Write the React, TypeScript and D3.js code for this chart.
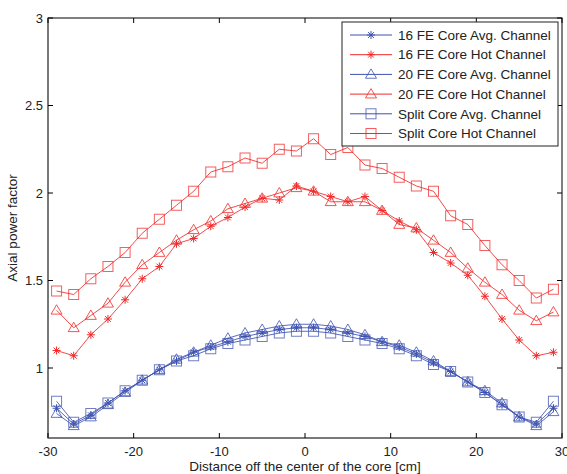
import React, { useEffect, useRef } from 'react';
import * as d3 from 'd3';

// distance off the core center [cm]
const positions = [
    -29, -27, -25, -23, -21, -19, -17, -15, -13, -11, -9, -7, -5, -3, -1,
    1, 3, 5, 7, 9, 11, 13, 15, 17, 19, 21, 23, 25, 27, 29,
];

const fe16Avg = [
    0.77, 0.68, 0.73, 0.8, 0.87, 0.93, 0.99, 1.04, 1.09, 1.12, 1.15, 1.18, 1.2, 1.22, 1.23,
    1.23, 1.22, 1.2, 1.18, 1.15, 1.12, 1.08, 1.03, 0.98, 0.92, 0.86, 0.79, 0.72, 0.68, 0.77,
];
const fe16Hot = [
    1.1, 1.07, 1.19, 1.28, 1.39, 1.51, 1.58, 1.71, 1.74, 1.81, 1.86, 1.92, 1.97, 1.96, 2.04,
    2.01, 1.98, 1.95, 1.98, 1.9, 1.84, 1.79, 1.66, 1.6, 1.53, 1.41, 1.28, 1.16, 1.07, 1.09,
];
const fe20Avg = [
    0.74, 0.67, 0.72, 0.79, 0.86, 0.93, 0.99, 1.05, 1.09, 1.13, 1.17, 1.2, 1.22, 1.24, 1.25,
    1.25, 1.24, 1.22, 1.19, 1.15, 1.13, 1.09, 1.04, 0.98, 0.92, 0.87, 0.8, 0.72, 0.67, 0.75,
];
const fe20Hot = [
    1.33, 1.23, 1.3, 1.37, 1.49, 1.59, 1.66, 1.73, 1.79, 1.84, 1.91, 1.94, 1.97, 2.0, 2.03,
    2.01, 1.95, 1.95, 1.95, 1.9, 1.82, 1.8, 1.73, 1.66, 1.57, 1.49, 1.42, 1.33, 1.27, 1.32,
];
const splitAvg = [
    0.81, 0.69, 0.74, 0.8, 0.87, 0.93, 0.99, 1.04, 1.07, 1.11, 1.14, 1.16, 1.18, 1.2, 1.21,
    1.21, 1.2, 1.18, 1.16, 1.14, 1.11, 1.07, 1.02, 0.98, 0.92, 0.86, 0.79, 0.72, 0.69, 0.81,
];
const splitHot = [
    1.44, 1.42, 1.51, 1.58, 1.66, 1.77, 1.85, 1.93, 2.01, 2.12, 2.15, 2.2, 2.17, 2.25, 2.24,
    2.31, 2.22, 2.26, 2.16, 2.14, 2.09, 2.04, 2.01, 1.87, 1.82, 1.7, 1.59, 1.5, 1.4, 1.45,
];

const seriesLabels = [
    '16 FE Core Avg. Channel',
    '16 FE Core Hot Channel',
    '20 FE Core Avg. Channel',
    '20 FE Core Hot Channel',
    'Split Core Avg. Channel',
    'Split Core Hot Channel',
];
const xTicks = [-30, -20, -10, 0, 10, 20, 30];
const yTicks = [1, 1.5, 2, 2.5, 3];

const BLUE = '#3d52b0';
const RED = '#f02a2a';

const series = [
    { label: seriesLabels[0], values: fe16Avg, color: BLUE, marker: 'star' },
    { label: seriesLabels[1], values: fe16Hot, color: RED, marker: 'star' },
    { label: seriesLabels[2], values: fe20Avg, color: BLUE, marker: 'triangle' },
    { label: seriesLabels[3], values: fe20Hot, color: RED, marker: 'triangle' },
    { label: seriesLabels[4], values: splitAvg, color: BLUE, marker: 'square' },
    { label: seriesLabels[5], values: splitHot, color: RED, marker: 'square' },
];

function drawMarker(g: any, kind: string, cx: number, cy: number, color: string) {
    if (kind === 'star') {
        const r = 4;
        const d = r * 0.72;
        g.append('path')
            .attr(
                'd',
                `M${cx - r},${cy}H${cx + r}M${cx},${cy - r}V${cy + r}` +
                    `M${cx - d},${cy - d}L${cx + d},${cy + d}M${cx - d},${cy + d}L${cx + d},${cy - d}`
            )
            .attr('stroke', color)
            .attr('stroke-width', 1)
            .attr('fill', 'none');
    } else if (kind === 'triangle') {
        const r = 5.5;
        g.append('path')
            .attr('d', `M${cx},${cy - r}L${cx + r},${cy + r * 0.7}L${cx - r},${cy + r * 0.7}Z`)
            .attr('stroke', color)
            .attr('stroke-width', 1)
            .attr('stroke-opacity', 0.8)
            .attr('fill', 'none');
    } else {
        const s = 5;
        g.append('rect')
            .attr('x', cx - s)
            .attr('y', cy - s)
            .attr('width', 2 * s)
            .attr('height', 2 * s)
            .attr('stroke', color)
            .attr('stroke-width', 1)
            .attr('stroke-opacity', 0.75)
            .attr('fill', 'none');
    }
}

export default function App() {
    const svgRef = useRef<SVGSVGElement>(null);

    useEffect(() => {
        const width = 567;
        const height = 474;
        const margin = { top: 18, right: 5, bottom: 36, left: 48 };
        const innerW = width - margin.left - margin.right;
        const innerH = height - margin.top - margin.bottom;

        const svg = d3.select(svgRef.current);
        svg.selectAll('*').remove();

        const root = svg.append('g').attr('transform', 'translate(' + margin.left + ',' + margin.top + ')');

        const x = d3.scaleLinear().domain([-30, 30]).range([0, innerW]);
        const y = d3.scaleLinear().domain([0.6, 3]).range([innerH, 0]);

        const font = 'Liberation Sans, Arial, sans-serif';
        const tickSize = 13;
        const labelSize = 13.5;

        // box
        root.append('rect')
            .attr('width', innerW)
            .attr('height', innerH)
            .attr('fill', 'white')
            .attr('stroke', 'black')
            .attr('stroke-width', 1);
        root.append('line').attr('x1', 0).attr('x2', 0).attr('y1', 0).attr('y2', innerH)
            .attr('stroke', '#777').attr('stroke-width', 1.6);
        root.append('line').attr('x1', 0).attr('x2', innerW).attr('y1', innerH).attr('y2', innerH)
            .attr('stroke', '#777').attr('stroke-width', 1.6);

        // inward ticks on all four sides
        const tickLen = 5;
        xTicks.forEach((t) => {
            root.append('line').attr('x1', x(t)).attr('x2', x(t)).attr('y1', innerH).attr('y2', innerH - tickLen)
                .attr('stroke', 'black');
            root.append('line').attr('x1', x(t)).attr('x2', x(t)).attr('y1', 0).attr('y2', tickLen)
                .attr('stroke', 'black');
        });
        yTicks.forEach((t) => {
            root.append('line').attr('x1', 0).attr('x2', tickLen).attr('y1', y(t)).attr('y2', y(t))
                .attr('stroke', 'black');
            root.append('line').attr('x1', innerW).attr('x2', innerW - tickLen).attr('y1', y(t)).attr('y2', y(t))
                .attr('stroke', 'black');
        });

        root.selectAll('.xlab')
            .data(xTicks)
            .enter()
            .append('text')
            .attr('class', 'xlab')
            .attr('x', (d) => x(d))
            .attr('y', innerH + 18)
            .attr('text-anchor', 'middle')
            .attr('font-family', font)
            .attr('font-size', tickSize)
            .attr('fill', '#222')
            .text((d) => d);

        root.selectAll('.ylab')
            .data(yTicks)
            .enter()
            .append('text')
            .attr('class', 'ylab')
            .attr('x', -5)
            .attr('y', (d) => y(d))
            .attr('dy', '0.35em')
            .attr('text-anchor', 'end')
            .attr('font-family', font)
            .attr('font-size', tickSize)
            .attr('fill', '#222')
            .text((d) => d);

        root.append('text')
            .attr('x', innerW / 2)
            .attr('y', innerH + 33)
            .attr('text-anchor', 'middle')
            .attr('font-family', font)
            .attr('font-size', labelSize)
            .attr('fill', '#222')
            .text('Distance off the center of the core [cm]');

        root.append('text')
            .attr('transform', 'translate(' + -31 + ',' + innerH / 2 + ') rotate(-90)')
            .attr('text-anchor', 'middle')
            .attr('font-family', font)
            .attr('font-size', labelSize)
            .attr('fill', '#222')
            .text('Axial power factor');

        // series
        const line = d3
            .line<number>()
            .x((_, i) => x(positions[i]))
            .y((d) => y(d));

        series.forEach((s) => {
            const g = root.append('g');
            g.append('path')
                .attr('d', line(s.values))
                .attr('fill', 'none')
                .attr('stroke', s.color)
                .attr('stroke-width', 1)
                .attr('stroke-opacity', 0.85);
            s.values.forEach((v, i) => drawMarker(g, s.marker, x(positions[i]), y(v), s.color));
        });

        // legend
        const lg = root.append('g').attr('transform', 'translate(' + (342 - margin.left) + ',' + (22 - margin.top) + ')');
        lg.append('rect')
            .attr('width', 216)
            .attr('height', 124)
            .attr('fill', 'white')
            .attr('stroke', '#222')
            .attr('stroke-width', 1);
        series.forEach((s, i) => {
            const cy = 13 + i * 19.7;
            lg.append('line')
                .attr('x1', 8)
                .attr('x2', 50)
                .attr('y1', cy)
                .attr('y2', cy)
                .attr('stroke', s.color)
                .attr('stroke-width', 1);
            drawMarker(lg, s.marker, 29, cy, s.color);
            lg.append('text')
                .attr('x', 56)
                .attr('y', cy)
                .attr('dy', '0.35em')
                .attr('font-family', font)
                .attr('font-size', labelSize)
                .attr('fill', '#222')
                .text(s.label);
        });
    }, []);

    return (
        <svg
            ref={svgRef}
            width={567}
            height={474}
            style={{ position: 'absolute', left: 0, top: 0, background: 'white' }}
        />
    );
}
